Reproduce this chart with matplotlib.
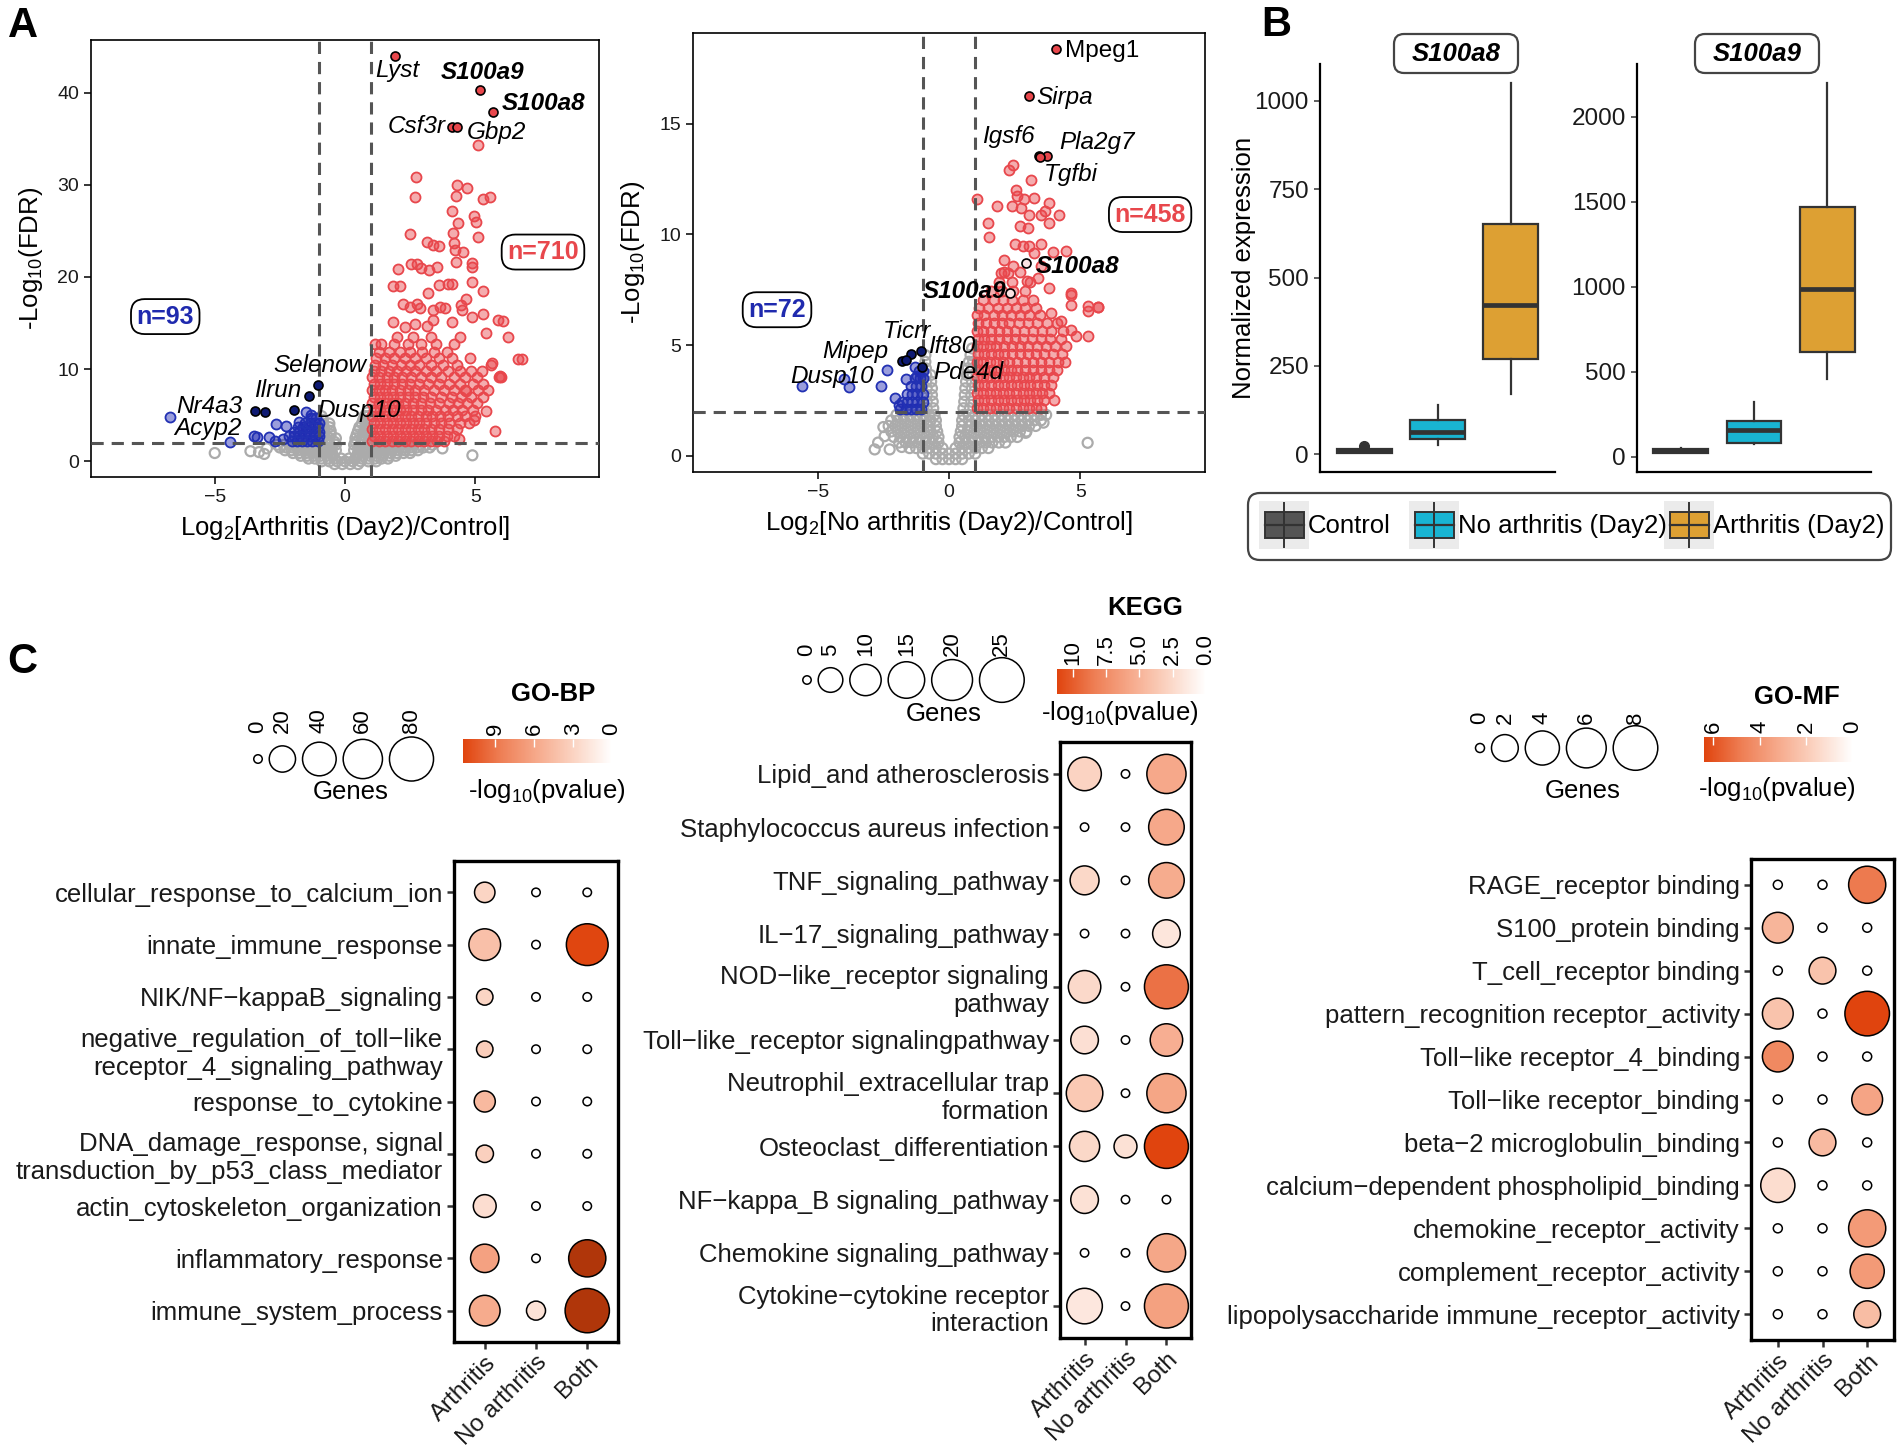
import numpy as np
import matplotlib
matplotlib.use("Agg")
import matplotlib.pyplot as plt
from matplotlib.colors import LinearSegmentedColormap, Normalize
from matplotlib.cm import ScalarMappable
from matplotlib.patches import FancyBboxPatch, Rectangle

plt.rcParams["font.family"] = ["Liberation Sans", "DejaVu Sans"]
plt.rcParams["mathtext.fontset"] = "custom"
plt.rcParams["mathtext.rm"] = "Liberation Sans"
plt.rcParams["mathtext.it"] = "Liberation Sans:italic"
plt.rcParams["mathtext.bf"] = "Liberation Sans:bold"

# ===================== data : panel A (volcano plots) =====================
FC_CUT = 1.0      # |log2 FC| threshold
FDR_CUT = 2.0     # -log10(FDR) threshold

# --- Arthritis (Day2) vs Control ---
v1_gray_rows = [
    (-0.3, [-0.4, -0.1, 0.2, 0.5]),
    (0.0, [-0.9, -0.6, -0.3, 0.0, 0.3, 0.6, 0.9, 1.2]),
    (0.3, [-1.4, -1.15, -0.9, -0.65, -0.4, -0.15, 0.15, 0.4, 0.65, 0.9, 1.15, 1.4, 1.65]),
    (0.6, [-1.7, -1.45, -1.2, -0.95, -0.7, -0.45, 0.45, 0.7, 0.95, 1.2, 1.45, 1.7, 1.95]),
    (0.9, [-2.0, -1.75, -1.5, -1.25, -1.0, -0.75, -0.5, 0.5, 0.75, 1.0, 1.25, 1.5, 1.75, 2.0, 2.25, 2.5]),
    (1.2, [-2.3, -2.05, -1.8, -1.55, -1.3, -1.05, -0.8, -0.55, -0.35, 0.35, 0.55, 0.8, 1.05, 1.3, 1.55,
           1.8, 2.05, 2.3, 2.55, 2.8]),
    (1.5, [-2.5, -2.25, -2.0, -1.75, -1.5, -1.25, -1.0, -0.75, -0.5, 0.5, 0.75, 1.0, 1.25, 1.5, 1.75,
           2.0, 2.25, 2.5, 2.75, 3.0, 3.25]),
    (1.8, [-2.6, -2.35, -2.1, -1.85, -1.6, -1.35, -1.1, -0.85, -0.6, -0.35, 0.35, 0.6, 0.85, 1.1, 1.35,
           1.6, 1.85, 2.1, 2.35, 2.6, 2.85, 3.1, 3.35]),
    (2.1, [-0.9, -0.65, -0.4, 0.4, 0.65, 0.9]),
    (2.5, [-0.85, -0.6, -0.35, 0.4, 0.65, 0.9]),
    (2.9, [-0.8, -0.55, 0.45, 0.7, 0.9]),
    (3.3, [-0.8, -0.55, 0.5, 0.75]),
    (3.7, [-0.8, -0.6, 0.55, 0.8]),
    (4.1, [-0.85, -0.6, 0.65, 0.85]),
    (4.5, [-0.85, 0.7, 0.9]),
    (4.9, [-0.9, 0.75, 0.9]),
    (5.3, [0.85]),
]
v1_gray_pts = [(-5.0, 0.9), (-3.63, 1.1), (-3.3, 1.0), (-3.1, 0.8), (-3.0, 1.4), (3.74, 1.4), (4.89, 0.65)]
v1_blue_rows = [
    (2.2, [-2.05, -1.85, -1.65, -1.45, -1.25, -1.05]),
    (2.7, [-2.15, -1.95, -1.75, -1.55, -1.35, -1.15, -1.0]),
    (3.2, [-1.95, -1.75, -1.55, -1.35, -1.15, -1.0]),
    (3.7, [-1.8, -1.6, -1.4, -1.2, -1.05]),
    (4.2, [-1.55, -1.35, -1.15, -1.0]),
    (4.7, [-1.3, -1.1]),
]
v1_blue_pts = [(-6.70, 4.8), (-4.43, 2.1), (-3.50, 2.7), (-3.38, 2.6), (-2.90, 2.6), (-2.64, 4.0),
               (-2.26, 3.8), (-2.39, 2.46), (-1.75, 4.26), (-1.49, 5.35), (-1.3, 5.0), (-2.7, 2.2)]
v1_red_rows = [
    (2.2, [1.05, 1.3, 1.55, 1.8, 2.05, 2.3, 2.55, 2.8, 3.05, 3.3, 3.55, 3.8]),
    (2.8, [1.1, 1.35, 1.6, 1.85, 2.1, 2.35, 2.6, 2.85, 3.1, 3.35, 3.6, 3.9, 4.2]),
    (3.5, [1.05, 1.3, 1.55, 1.8, 2.05, 2.3, 2.55, 2.8, 3.05, 3.3, 3.6, 3.95, 4.3]),
    (4.2, [1.1, 1.35, 1.6, 1.85, 2.1, 2.35, 2.6, 2.85, 3.1, 3.4, 3.7, 4.0, 4.4, 4.75]),
    (4.9, [1.05, 1.3, 1.55, 1.8, 2.05, 2.3, 2.55, 2.8, 3.1, 3.35, 3.65, 3.95, 4.3, 4.6, 5.0]),
    (5.6, [1.1, 1.35, 1.6, 1.85, 2.1, 2.35, 2.6, 2.9, 3.2, 3.5, 3.85, 4.15, 4.5, 4.9]),
    (6.3, [1.05, 1.3, 1.55, 1.8, 2.05, 2.3, 2.6, 2.9, 3.25, 3.6, 4.0, 4.35, 4.7, 5.05]),
    (7.0, [1.1, 1.35, 1.6, 1.85, 2.1, 2.4, 2.7, 3.0, 3.3, 3.7, 4.1, 4.45, 4.85, 5.3]),
    (7.7, [1.05, 1.3, 1.55, 1.8, 2.1, 2.4, 2.7, 3.05, 3.4, 3.8, 4.2, 4.6, 5.1, 5.5]),
    (8.4, [1.1, 1.35, 1.6, 1.9, 2.2, 2.5, 2.85, 3.2, 3.6, 4.0, 4.4, 4.9, 5.3]),
    (9.1, [1.05, 1.3, 1.6, 1.9, 2.2, 2.55, 2.9, 3.3, 3.7, 4.2, 4.6, 5.05, 5.9]),
    (9.8, [1.1, 1.4, 1.7, 2.0, 2.35, 2.7, 3.1, 3.5, 3.95, 4.4, 4.85]),
    (10.5, [1.15, 1.45, 1.8, 2.15, 2.5, 2.85, 3.3, 3.75, 4.3, 5.6]),
    (11.2, [1.2, 1.55, 1.9, 2.3, 2.7, 3.1, 3.6, 4.1, 4.8]),
    (11.9, [1.3, 1.7, 2.1, 2.5, 2.95, 3.4, 3.9]),
    (12.7, [1.4, 1.9, 2.4, 2.9, 3.5, 4.2]),
    (13.5, [2.0, 2.6, 3.3, 4.4]),
]
v1_red_pts = [
    (5.11, 34.3), (2.72, 30.8), (2.69, 28.7), (4.30, 30.0), (4.69, 29.6), (4.28, 28.8), (5.30, 28.4),
    (5.56, 28.7), (4.10, 27.2), (4.97, 26.6), (5.02, 26.0), (4.34, 25.8), (2.49, 24.7), (4.15, 24.8),
    (5.11, 24.3), (3.15, 23.8), (3.36, 23.5), (3.61, 23.4), (4.20, 23.7), (4.21, 22.9), (4.53, 22.7),
    (2.52, 21.4), (2.77, 21.4), (2.90, 21.0), (3.22, 20.7), (3.55, 21.1), (4.28, 21.6), (4.89, 21.5),
    (4.89, 21.1), (2.02, 20.9), (1.85, 19.0), (2.11, 19.0), (3.17, 18.3), (3.61, 19.1), (3.96, 19.2),
    (4.09, 19.2), (4.89, 19.4), (5.30, 18.5), (2.23, 17.1), (2.49, 16.7), (2.77, 17.1), (2.87, 16.6),
    (3.38, 16.4), (3.64, 16.7), (3.83, 16.6), (4.47, 17.0), (4.66, 17.6), (4.51, 16.4), (5.28, 16.0),
    (5.87, 15.3), (6.07, 15.2), (1.85, 15.1), (2.30, 14.6), (2.68, 14.9), (3.13, 14.7), (3.38, 15.3),
    (4.09, 15.1), (4.89, 15.7), (5.43, 13.9), (6.26, 13.5), (6.63, 11.1), (6.78, 11.1), (5.75, 3.3),
    (5.94, 9.3), (5.63, 10.7), (5.25, 9.75), (4.66, 7.6), (5.4, 5.5), (4.96, 4.5), (4.36, 2.4),
    (6.0, 9.2), (1.17, 12.7),
]
v1_hi_up = {"Lyst": (1.92, 43.96), "S100a9": (5.2, 40.3), "S100a8": (5.68, 37.9),
            "Csf3r": (4.12, 36.3), "Gbp2": (4.30, 36.3)}
v1_hi_down = {"Selenow": (-1.05, 8.3), "Ilrun": (-1.37, 7.05), "Nr4a3": (-3.47, 5.42),
              "Acyp2": (-3.09, 5.35), "Dusp10": (-1.94, 5.6)}
v1_n = (93, 710)

# --- No arthritis (Day2) vs Control ---
v2_gray_rows = [
    (-0.15, [-0.5, -0.25, 0.0, 0.25, 0.5]),
    (0.1, [-1.0, -0.75, -0.5, -0.25, 0.0, 0.25, 0.5, 0.75, 1.0]),
    (0.35, [-1.5, -1.25, -1.0, -0.75, -0.5, -0.25, 0.25, 0.5, 0.75, 1.0, 1.25, 1.5]),
    (0.6, [-1.9, -1.65, -1.4, -1.15, -0.9, -0.65, -0.4, 0.4, 0.65, 0.9, 1.15, 1.4, 1.65, 1.9, 2.15]),
    (0.85, [-2.1, -1.85, -1.6, -1.35, -1.1, -0.85, -0.6, -0.4, 0.4, 0.6, 0.85, 1.1, 1.35, 1.6, 1.85,
            2.1, 2.35, 2.6]),
    (1.1, [-2.2, -1.95, -1.7, -1.45, -1.2, -0.95, -0.7, -0.45, 0.45, 0.7, 0.95, 1.2, 1.45, 1.7, 1.95,
           2.2, 2.45, 2.7, 2.95]),
    (1.35, [-2.3, -2.05, -1.8, -1.55, -1.3, -1.05, -0.8, -0.5, 0.5, 0.8, 1.05, 1.3, 1.55, 1.8, 2.05,
            2.3, 2.55, 2.8, 3.05, 3.3]),
    (1.6, [-2.2, -1.95, -1.7, -1.45, -1.2, -0.95, -0.7, -0.5, 0.5, 0.75, 1.0, 1.25, 1.5, 1.75, 2.0,
           2.25, 2.5, 2.75, 3.0, 3.25, 3.5]),
    (1.85, [-2.0, -1.75, -1.5, -1.25, -1.0, -0.75, -0.55, 0.55, 0.75, 1.0, 1.25, 1.5, 1.75, 2.0, 2.25,
            2.5, 2.75, 3.0, 3.25, 3.5, 3.7]),
    (2.15, [-0.85, -0.6, 0.55, 0.8]),
    (2.45, [-0.85, -0.62, 0.58, 0.85]),
    (2.75, [-0.85, -0.65, 0.6, 0.85]),
    (3.05, [-0.85, -0.65, 0.62, 0.87]),
    (3.35, [-0.87, -0.68, 0.65, 0.88]),
    (3.65, [-0.87, -0.7, 0.68, 0.9]),
    (3.95, [-0.88, 0.72, 0.9]),
    (4.25, [-0.9, 0.76, 0.92]),
    (4.55, [-0.9, 0.82]),
    (4.85, [0.88]),
]
v2_gray_pts = [(-2.83, 0.29), (-2.45, 0.89), (-2.26, 0.29), (-1.8, 0.4), (2.92, 1.04), (5.28, 0.59),
               (-2.5, 1.3), (-2.7, 0.6), (3.6, 1.5)]
v2_blue_rows = [
    (2.1, [-1.85, -1.65, -1.45, -1.25, -1.05]),
    (2.45, [-1.8, -1.6, -1.4, -1.2, -1.0]),
    (2.8, [-1.6, -1.4, -1.2, -1.0]),
    (3.15, [-1.45, -1.25, -1.05]),
    (3.5, [-1.3, -1.1, -0.98]),
    (3.85, [-1.15, -0.98]),
]
v2_blue_pts = [(-5.58, 3.14), (-3.98, 3.45), (-3.82, 3.12), (-2.60, 3.14), (-2.35, 3.90), (-2.07, 2.62),
               (-1.62, 3.48), (-1.3, 4.0), (-1.2, 3.6), (-1.9, 2.3)]
v2_red_rows = [
    (2.15, [1.05, 1.3, 1.55, 1.8, 2.05, 2.3, 2.55, 2.8, 3.05, 3.3, 3.5]),
    (2.5, [1.1, 1.35, 1.6, 1.85, 2.1, 2.35, 2.6, 2.85, 3.1, 3.35, 3.6]),
    (2.85, [1.05, 1.3, 1.55, 1.8, 2.05, 2.3, 2.55, 2.8, 3.05, 3.3, 3.55, 3.8]),
    (3.2, [1.1, 1.35, 1.6, 1.85, 2.1, 2.35, 2.6, 2.85, 3.1, 3.35, 3.6, 3.9]),
    (3.55, [1.05, 1.3, 1.55, 1.8, 2.05, 2.3, 2.55, 2.8, 3.05, 3.3, 3.6, 3.95]),
    (3.9, [1.1, 1.35, 1.6, 1.85, 2.1, 2.35, 2.6, 2.9, 3.2, 3.5, 3.8, 4.1]),
    (4.25, [1.05, 1.3, 1.55, 1.8, 2.05, 2.3, 2.6, 2.9, 3.2, 3.5, 3.8, 4.15, 4.4]),
    (4.6, [1.1, 1.35, 1.6, 1.85, 2.1, 2.4, 2.7, 3.0, 3.3, 3.6, 3.95, 4.3]),
    (4.95, [1.05, 1.3, 1.55, 1.8, 2.1, 2.4, 2.7, 3.0, 3.35, 3.7, 4.05, 4.45]),
    (5.3, [1.1, 1.35, 1.6, 1.9, 2.2, 2.5, 2.8, 3.15, 3.5, 3.85, 4.25]),
    (5.65, [1.05, 1.3, 1.6, 1.9, 2.2, 2.5, 2.85, 3.2, 3.55, 3.9, 4.35]),
    (6.0, [1.1, 1.4, 1.7, 2.0, 2.3, 2.65, 3.0, 3.35, 3.75, 4.1]),
    (6.35, [1.05, 1.35, 1.7, 2.0, 2.35, 2.7, 3.05, 3.45]),
    (6.7, [1.15, 1.5, 1.85, 2.2, 2.55, 2.9, 3.3]),
    (7.05, [1.3, 1.7, 2.05, 2.4, 2.8, 3.2]),
    (7.45, [1.6, 2.0, 2.45, 2.9]),
    (7.85, [1.9, 2.4, 3.1]),
    (8.3, [2.1, 2.7]),
]
v2_red_pts = [
    (1.08, 11.61), (2.42, 13.16), (2.29, 12.93), (3.12, 12.48), (2.54, 12.03), (2.58, 11.73),
    (2.86, 11.58), (3.25, 11.66), (1.84, 11.28), (2.39, 11.28), (2.74, 11.20), (3.05, 10.90),
    (3.50, 10.90), (3.66, 11.06), (3.82, 11.40), (4.20, 10.90), (1.50, 10.53), (2.71, 10.38),
    (3.02, 10.30), (3.82, 10.50), (1.52, 9.90), (2.51, 9.58), (2.80, 9.48), (3.05, 9.48),
    (3.50, 9.55), (3.25, 9.17), (3.95, 9.21), (4.46, 9.25), (2.10, 8.85), (2.42, 8.57),
    (3.50, 8.57), (1.97, 8.27), (2.23, 8.27), (2.97, 7.90), (3.38, 8.05), (3.82, 7.60),
    (4.65, 7.37), (5.29, 6.77), (5.67, 6.74), (4.64, 7.28), (4.64, 6.83), (5.28, 6.53),
    (5.69, 6.72), (5.28, 5.40), (4.83, 5.40), (4.64, 5.7), (4.0, 2.54), (4.26, 6.08), (3.87, 6.45),
]
v2_hi_up = {"Mpeg1": (4.08, 18.38), "Sirpa": (3.03, 16.24), "Igsf6": (3.44, 13.56),
            "Pla2g7": (3.73, 13.56), "Tgfbi": (3.46, 13.52)}
v2_hi_ring = {"S100a8": (2.93, 8.72), "S100a9": (2.34, 7.37)}
v2_hi_down = {"Ticrr": (-1.45, 4.6), "Ift80": (-1.05, 4.75), "Mipep": (-1.78, 4.28),
              "Dusp10": (-1.62, 4.35), "Pde4d": (-1.02, 4.02)}
v2_n = (72, 458)

# ===================== data : panel B (box plots) =====================
b_groups = ["Control", "No arthritis (Day2)", "Arthritis (Day2)"]
b_colors = ["#555555", "#19B4D2", "#DDA033"]
s100a8_q1 = [4, 42, 268]
s100a8_med = [8, 62, 421]
s100a8_q3 = [14, 96, 651]
s100a8_lo = [2, 25, 169]
s100a8_hi = [17, 140, 1052]
s100a8_out = [[23], [], []]
s100a9_q1 = [22, 80, 615]
s100a9_med = [33, 157, 989]
s100a9_q3 = [45, 207, 1467]
s100a9_lo = [18, 72, 457]
s100a9_hi = [50, 320, 2202]
s100a9_out = [[], [], []]

# ===================== data : panel C (enrichment dot plots) =====================
c_groups = ["Arthritis", "No arthritis", "Both"]

bp_terms = ["cellular_response_to_calcium_ion", "innate_immune_response", "NIK/NF\u2212kappaB_signaling",
            "negative_regulation_of_toll\u2212like\nreceptor_4_signaling_pathway", "response_to_cytokine",
            "DNA_damage_response, signal\ntransduction_by_p53_class_mediator",
            "actin_cytoskeleton_organization", "inflammatory_response", "immune_system_process"]
bp_genes = [[9, 0, 0], [34, 0, 70], [4, 0, 0], [4, 0, 0], [10, 0, 0], [5, 0, 0], [13, 0, 0],
            [25, 0, 52], [31, 7, 81]]
bp_logp = [[2.9, 0, 0], [4.3, 0, 11.4], [2.9, 0, 0], [3.4, 0, 0], [4.8, 0, 0], [3.2, 0, 0],
           [2.3, 0, 0], [6.3, 0, 16], [5.7, 2.0, 19]]

kegg_terms = ["Lipid_and atherosclerosis", "Staphylococcus aureus infection", "TNF_signaling_pathway",
              "IL\u221217_signaling_pathway", "NOD\u2212like_receptor signaling\npathway",
              "Toll\u2212like_receptor signalingpathway", "Neutrophil_extracellular trap\nformation",
              "Osteoclast_differentiation", "NF\u2212kappa_B signaling_pathway", "Chemokine signaling_pathway",
              "Cytokine\u2212cytokine receptor\ninteraction"]
kegg_genes = [[12, 0, 18], [0, 0, 14], [8, 0, 14], [0, 0, 7], [11, 0, 24], [7, 0, 11], [15, 0, 18],
              [9, 4, 24], [7, 0, 0], [0, 0, 17], [14, 0, 24]]
kegg_logp = [[2.9, 0, 5.7], [0, 0, 5.7], [2.6, 0, 5.5], [0, 0, 1.7], [2.5, 0, 9.0], [2.1, 0, 5.3],
             [3.6, 0, 5.9], [2.6, 2.0, 11.2], [2.0, 0, 0], [0, 0, 5.8], [1.6, 0, 6.2]]

mf_terms = ["RAGE_receptor binding", "S100_protein binding", "T_cell_receptor binding",
            "pattern_recognition receptor_activity", "Toll\u2212like receptor_4_binding",
            "Toll\u2212like receptor_binding", "beta\u22122 microglobulin_binding",
            "calcium\u2212dependent phospholipid_binding", "chemokine_receptor_activity",
            "complement_receptor_activity", "lipopolysaccharide immune_receptor_activity"]
mf_genes = [[0, 0, 5], [3, 0, 0], [0, 2, 0], [3, 0, 8], [3, 0, 0], [0, 0, 3], [0, 2, 0], [4, 0, 0],
            [0, 0, 5], [0, 0, 4], [0, 0, 2]]
mf_logp = [[0, 0, 4.9], [2.8, 0, 0], [0, 2.3, 0], [2.3, 0, 6.4], [4.4, 0, 0], [0, 0, 3.4], [0, 2.6, 0],
           [1.3, 0, 0], [0, 0, 3.8], [0, 0, 3.8], [0, 0, 2.5]]

# ===================== figure =====================
W, H = 1901, 1454
PT = 0.72  # points per pixel (dpi 100)
fig = plt.figure(figsize=(W / 100, H / 100), dpi=100)


def px_box(x0, y0, x1, y1):
    return [x0 / W, 1 - y1 / H, (x1 - x0) / W, (y1 - y0) / H]


def rows_to_xy(rows, pts=()):
    xs = [x for y, row in rows for x in row] + [p[0] for p in pts]
    ys = [y for y, row in rows for x in row] + [p[1] for p in pts]
    return np.array(xs), np.array(ys)


# overlay in pixel coordinates (panel letters, legends), drawn above the panels
ov = fig.add_axes([0, 0, 1, 1])
ov.set_xlim(0, W)
ov.set_ylim(H, 0)
ov.axis("off")
ov.set_zorder(10)

for letter, (lx, ly) in zip("ABC", [(23, 26), (1276, 25), (22, 662)]):
    ov.text(lx, ly, letter, fontsize=30, fontweight="bold", ha="center", va="center")

RED = "#E8474C"
BLUE = "#1F2AAE"
LBL = 17.5


def draw_volcano(rect, gray, blue, red, hi_up, hi_down, ylim, yticks, xlab, n_vals, n_pos,
                 labels, ring=None):
    ax = fig.add_axes(px_box(*rect))
    ms = (10 * PT) ** 2
    ax.scatter(*gray, s=ms, facecolors="none", edgecolors="#ABABAB", linewidths=1.6, zorder=2)
    ax.scatter(*blue, s=ms, facecolors=(0.12, 0.16, 0.70, 0.45), edgecolors="#2231B3",
               linewidths=1.3, zorder=3)
    ax.scatter(*red, s=ms, facecolors=(0.91, 0.28, 0.30, 0.45), edgecolors=RED,
               linewidths=1.3, zorder=3)
    for v in (-FC_CUT, FC_CUT):
        ax.axvline(v, color="#555555", lw=2.2, ls=(0, (4, 2.6)), zorder=4)
    ax.axhline(FDR_CUT, color="#555555", lw=2.2, ls=(0, (4, 2.6)), zorder=4)
    hs = (9 * PT) ** 2
    up = np.array(list(hi_up.values()))
    dn = np.array(list(hi_down.values()))
    ax.scatter(up[:, 0], up[:, 1], s=hs, facecolors=RED, edgecolors="black", linewidths=1.2, zorder=5)
    ax.scatter(dn[:, 0], dn[:, 1], s=hs, facecolors="#0E1A72", edgecolors="black", linewidths=1.2, zorder=5)
    if ring is not None:
        rg = np.array(list(ring.values()))
        ax.scatter(rg[:, 0], rg[:, 1], s=hs, facecolors="#FBE3E3", edgecolors="black",
                   linewidths=1.2, zorder=5)
    for name, tx, ty, ha, wt, st in labels:
        ax.text(tx, ty, name, fontsize=LBL, ha=ha, va="center", fontweight=wt, fontstyle=st, zorder=6)
    bb = dict(boxstyle="round,pad=0.22,rounding_size=0.55", fc="white", ec="black", lw=1.3)
    ax.text(*n_pos[0], f"n={n_vals[0]}", color=BLUE, fontsize=18, fontweight="bold",
            ha="center", va="center", bbox=bb)
    ax.text(*n_pos[1], f"n={n_vals[1]}", color=RED, fontsize=18, fontweight="bold",
            ha="center", va="center", bbox=bb)
    ax.set_xlim(-9.75, 9.75)
    ax.set_ylim(*ylim)
    ax.set_xticks([-5, 0, 5])
    ax.set_yticks(yticks)
    ax.tick_params(direction="out", length=5, width=1.1, labelsize=14, labelcolor="#1A1A1A")
    for s in ax.spines.values():
        s.set_linewidth(1.2)
    ax.set_xlabel(xlab, fontsize=18.5, labelpad=6)
    ax.set_ylabel(r"-Log$_{\mathregular{10}}$(FDR)", fontsize=18.5, labelpad=9)
    return ax


v1_labels = [("Lyst", 1.15, 42.4, "left", "normal", "italic"),
             ("S100a9", 3.68, 42.2, "left", "bold", "italic"),
             ("S100a8", 6.0, 38.8, "left", "bold", "italic"),
             ("Csf3r", 3.88, 36.3, "right", "normal", "italic"),
             ("Gbp2", 4.66, 35.7, "left", "normal", "italic"),
             ("Selenow", -2.77, 10.4, "left", "normal", "italic"),
             ("Ilrun", -3.5, 7.7, "left", "normal", "italic"),
             ("Nr4a3", -6.47, 5.97, "left", "normal", "italic"),
             ("Acyp2", -6.54, 3.55, "left", "normal", "italic"),
             ("Dusp10", -1.07, 5.53, "left", "normal", "italic")]
draw_volcano((91, 40, 599, 477), rows_to_xy(v1_gray_rows, v1_gray_pts),
             rows_to_xy(v1_blue_rows, v1_blue_pts), rows_to_xy(v1_red_rows, v1_red_pts),
             v1_hi_up, v1_hi_down, (-1.7, 45.7), [0, 10, 20, 30, 40],
             r"Log$_{\mathregular{2}}$[Arthritis (Day2)/Control]", v1_n, [(-6.9, 15.7), (7.6, 22.7)],
             v1_labels)

v2_labels = [("Mpeg1", 4.42, 18.27, "left", "normal", "normal"),
             ("Sirpa", 3.31, 16.2, "left", "normal", "italic"),
             ("Igsf6", 1.27, 14.44, "left", "normal", "italic"),
             ("Pla2g7", 4.2, 14.14, "left", "normal", "italic"),
             ("Tgfbi", 3.63, 12.71, "left", "normal", "italic"),
             ("S100a8", 3.31, 8.57, "left", "bold", "italic"),
             ("S100a9", 2.2, 7.43, "right", "bold", "italic"),
             ("Ticrr", -2.51, 5.62, "left", "normal", "italic"),
             ("Mipep", -4.81, 4.72, "left", "normal", "italic"),
             ("Ift80", -0.79, 4.95, "left", "normal", "italic"),
             ("Dusp10", -6.03, 3.6, "left", "normal", "italic"),
             ("Pde4d", -0.6, 3.75, "left", "normal", "italic")]
draw_volcano((693, 33, 1205, 472), rows_to_xy(v2_gray_rows, v2_gray_pts),
             rows_to_xy(v2_blue_rows, v2_blue_pts), rows_to_xy(v2_red_rows, v2_red_pts),
             v2_hi_up, v2_hi_down, (-0.73, 19.1), [0, 5, 10, 15],
             r"Log$_{\mathregular{2}}$[No arthritis (Day2)/Control]", v2_n, [(-6.55, 6.6), (7.66, 10.9)],
             v2_labels, ring=v2_hi_ring)


# ---------------- panel B ----------------
def draw_box(rect, q1, med, q3, lo, hi, out, yticks, ylabel=None):
    ax = fig.add_axes(px_box(*rect))
    stats = [dict(q1=q1[i], med=med[i], q3=q3[i], whislo=lo[i], whishi=hi[i], fliers=out[i])
             for i in range(3)]
    bp = ax.bxp(stats, positions=[1, 2, 3], widths=0.75, patch_artist=True, showcaps=False,
                manage_ticks=False,
                boxprops=dict(edgecolor="#333333", linewidth=1.6),
                medianprops=dict(color="#333333", linewidth=3.4),
                whiskerprops=dict(color="#333333", linewidth=1.6),
                flierprops=dict(marker="o", markerfacecolor="#333333", markeredgecolor="#333333",
                                markersize=7))
    for patch, c in zip(bp["boxes"], b_colors):
        patch.set_facecolor(c)
    span = max(hi) - min(lo)
    ax.set_ylim(min(lo) - 0.05 * span, max(hi) + 0.05 * span)
    ax.set_xlim(0.4, 3.6)
    ax.set_xticks([])
    ax.set_yticks(yticks)
    for side in ("top", "right"):
        ax.spines[side].set_visible(False)
    for side in ("left", "bottom"):
        ax.spines[side].set_linewidth(1.6)
    ax.tick_params(axis="y", length=4.5, width=1.1, color="#333333", labelsize=17.5,
                   labelcolor="#1A1A1A")
    if ylabel:
        ax.set_ylabel(ylabel, fontsize=18.5, labelpad=-1)
    return ax


draw_box((1320, 64, 1555, 472), s100a8_q1, s100a8_med, s100a8_q3, s100a8_lo, s100a8_hi, s100a8_out,
         [0, 250, 500, 750, 1000], "Normalized expression")
draw_box((1637, 64, 1871, 472), s100a9_q1, s100a9_med, s100a9_q3, s100a9_lo, s100a9_hi, s100a9_out,
         [0, 500, 1000, 1500, 2000])

for name, cx in [("S100a8", 1456), ("S100a9", 1757)]:
    ov.add_patch(FancyBboxPatch((cx - 62, 34), 124, 39, boxstyle="round,pad=0,rounding_size=10",
                                fc="white", ec="#444444", lw=1.6))
    ov.text(cx, 54, name, fontsize=18.5, fontweight="bold", fontstyle="italic", ha="center", va="center")

ov.add_patch(FancyBboxPatch((1248, 493), 643, 67, boxstyle="round,pad=0,rounding_size=12",
                            fc="white", ec="#444444", lw=1.6))
for grp, col, cx in zip(b_groups, b_colors, [1284, 1434, 1689]):
    ov.add_patch(Rectangle((cx - 25, 501), 50, 48, fc="#EBEBEB", ec="none"))
    ov.plot([cx, cx], [503, 547], color="#333333", lw=1.4)
    ov.add_patch(Rectangle((cx - 19.5, 512), 39, 26, fc=col, ec="#333333", lw=1.4))
    ov.plot([cx - 19.5, cx + 19.5], [525, 525], color="#333333", lw=1.6)
    ov.text(cx + 24, 526, grp, fontsize=18.5, ha="left", va="center")

# ---------------- panel C ----------------
pv_cmap = LinearSegmentedColormap.from_list("pv", ["#FFFFFF", "#FBD5C4", "#F6AA8C", "#EE7E54", "#E0440E"])
pv_cmap_dots = pv_cmap.copy()
pv_cmap_dots.set_over("#B0360A")


def draw_dots(rect, terms, genes, logp, size_par, vmax, cb_rect, cb_ticks, cb_labels, breaks,
              leg_x0, leg_y, lab_y, genes_xy, title, title_xy, cbt_xy):
    dmin, dspan, gmax = size_par

    def diam(v):
        return dmin + dspan * np.sqrt(np.asarray(v, dtype=float) / gmax)

    ax = fig.add_axes(px_box(*rect))
    n = len(terms)
    g = np.array(genes, dtype=float)
    p = np.array(logp, dtype=float)
    yy, xx = np.meshgrid(np.arange(n), np.arange(3), indexing="ij")
    norm = Normalize(0, vmax)
    ax.scatter(xx.ravel(), yy.ravel(), s=(diam(g.ravel()) * PT) ** 2, c=p.ravel(), cmap=pv_cmap_dots,
               norm=norm, edgecolors="black", linewidths=1.1, zorder=3)
    ax.set_xlim(-0.6, 2.6)
    ax.set_ylim(n - 0.4, -0.6)
    ax.set_yticks(range(n))
    ax.set_yticklabels(terms, fontsize=18.5, color="#1A1A1A")
    ax.set_xticks(range(3))
    ax.set_xticklabels(c_groups, rotation=45, ha="right", va="top", rotation_mode="anchor",
                       fontsize=17.5, color="#1A1A1A")
    for s in ax.spines.values():
        s.set_linewidth(2.4)
    ax.tick_params(length=5, width=1.8, color="#333333", pad=3)
    ax.tick_params(axis="x", pad=2)

    # size legend
    ds = diam(breaks)
    cx = [leg_x0]
    for i in range(1, len(breaks)):
        cx.append(cx[-1] + (ds[i - 1] + ds[i]) / 2 + 7)
    ov.scatter(cx, [leg_y] * len(cx), s=(ds * PT) ** 2, facecolors="white", edgecolors="black",
               linewidths=1.1)
    for x, b in zip(cx, breaks):
        ov.text(x, lab_y, str(b), rotation=90, fontsize=16, ha="center", va="bottom")
    ov.text(*genes_xy, "Genes", fontsize=18.5, ha="center", va="center")

    # colour bar
    cax = fig.add_axes(px_box(*cb_rect))
    cb = fig.colorbar(ScalarMappable(norm=norm, cmap=pv_cmap), cax=cax, orientation="horizontal")
    cb.outline.set_visible(False)
    cax.invert_xaxis()
    cax.xaxis.set_ticks_position("top")
    cb.set_ticks(cb_ticks, labels=cb_labels)
    cax.tick_params(axis="x", direction="in", length=6, width=1, color="white", labelsize=16,
                    labelrotation=90, pad=3)
    ov.text(*title_xy, title, fontsize=18.5, fontweight="bold", ha="center", va="center")
    ov.text(*cbt_xy, r"-log$_{\mathregular{10}}$(pvalue)", fontsize=18.5, ha="center", va="center")


draw_dots((454, 861, 618, 1342), bp_terms, bp_genes, bp_logp, (8.5, 36, 82), 11.5,
          (463, 739, 612, 763), [9, 6, 3, 0], ["9", "6", "3", "0"], [0, 20, 40, 60, 80],
          258, 759, 733, (351, 792), "GO-BP", (553, 694), (547, 791))
draw_dots((1060, 742, 1191, 1338), kegg_terms, kegg_genes, kegg_logp, (8.4, 37, 26), 11.2,
          (1057, 669, 1206, 694), [10, 7.5, 5, 2.5, 0], ["10", "7.5", "5.0", "2.5", "0.0"],
          [0, 5, 10, 15, 20, 25], 807, 680, 656, (944, 714), "KEGG", (1145, 608), (1120, 713))
draw_dots((1751, 859, 1894, 1340), mf_terms, mf_genes, mf_logp, (9, 36, 8.2), 6.4,
          (1704, 737, 1853, 762), [6, 4, 2, 0], ["6", "4", "2", "0"], [0, 2, 4, 6, 8],
          1480, 748, 724, (1583, 791), "GO-MF", (1797, 697), (1777, 789))

fig.savefig("out.png", dpi=100)
